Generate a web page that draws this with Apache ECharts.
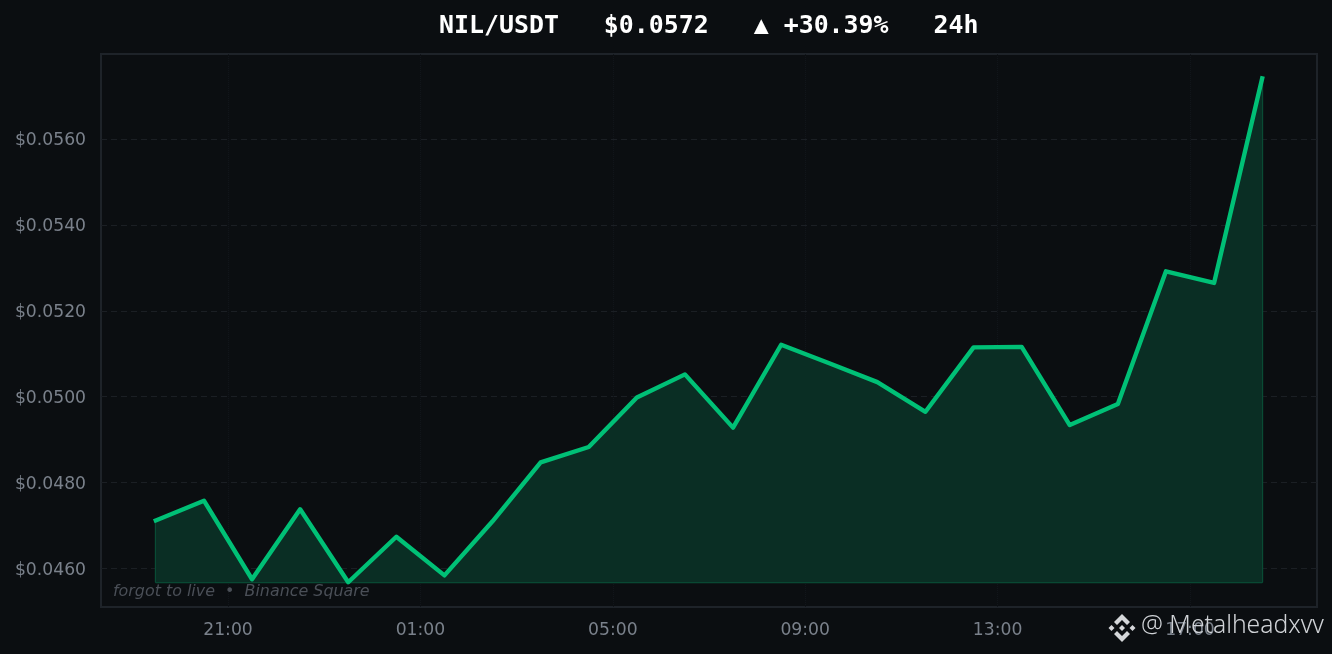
<!DOCTYPE html>
<html>
<head>
<meta charset="utf-8">
<style>html,body{margin:0;padding:0;background:#0b0e11}#c{width:1332px;height:654px}</style>
<script src="https://cdn.jsdelivr.net/npm/echarts@6/dist/echarts.min.js"></script>
</head>
<body>
<div id="c"></div>
<script>
const hours = [19.5,20.5,21.5,22.5,23.5,24.5,25.5,26.5,27.5,28.5,29.5,30.5,31.5,32.5,33.5,34.5,35.5,36.5,37.5,38.5,39.5,40.5,41.5,42.5];
const prices = [0.04712,0.04758,0.04575,0.04738,0.04568,0.04674,0.04584,0.04710,0.04847,0.04883,0.04998,0.05052,0.04928,0.05121,0.05078,0.05034,0.04965,0.05115,0.05116,0.04934,0.04983,0.05292,0.05265,0.05741];
const baseline = 0.04568;
const xTicks = [21,25,29,33,37,41];
const yTicks = [0.046,0.048,0.05,0.052,0.054,0.056];
const titleText = 'NIL/USDT   $0.0572   \u25B2 +30.39%   24h';
const sourceText = 'forgot to live  \u2022  Binance Square';
const handleText = '@ Metalheadxvv';

const line = hours.map((h,i)=>[h,prices[i]]);
const n = hours.length-1;
const edge = [[hours[0],prices[0]],[hours[0],baseline],[hours[n],baseline],[hours[n],prices[n]]];
const chart = echarts.init(document.getElementById('c'),null,{renderer:'canvas'});
const logoParts = [
  [[0,-14],[8,-6],[5,-3],[0,-8],[-5,-3],[-8,-6]],
  [[0,14],[8,6],[5,3],[0,8],[-5,3],[-8,6]],
  [[0,-3],[3,0],[0,3],[-3,0]],
  [[-10.5,-3],[-7.5,0],[-10.5,3],[-13.5,0]],
  [[10.5,-3],[13.5,0],[10.5,3],[7.5,0]]
];
chart.setOption({
  animation:false,
  backgroundColor:'#0b0e11',
  title:{text:titleText,top:9,left:434,textStyle:{fontFamily:'DejaVu Sans Mono',fontWeight:'bold',fontSize:24.9,color:'#ffffff'}},
  grid:{left:101,right:15,top:54,bottom:47,show:true,borderColor:'#1e2329',borderWidth:2,backgroundColor:'transparent'},
  xAxis:{type:'value',min:18.36,max:43.64,
    axisLine:{show:false},
    axisTick:{show:false,customValues:xTicks},
    axisLabel:{customValues:xTicks,margin:15,color:'#7a818b',fontFamily:'DejaVu Sans',fontSize:17.2,showMinLabel:true,showMaxLabel:true,
      formatter:v=>String(v%24).padStart(2,'0')+':00'},
    splitLine:{show:true,lineStyle:{color:'#11151a',type:'dotted',width:1}}},
  yAxis:{type:'value',min:0.045104,max:0.05798,
    axisLine:{show:false},
    axisTick:{show:false,customValues:yTicks},
    axisLabel:{customValues:yTicks,margin:15,
      formatter:v=>'{a|$'+v.toFixed(4)+'}',
      rich:{a:{color:'#7a818b',fontFamily:'DejaVu Sans',fontSize:17.2,padding:[4,0,0,0]}}},
    splitLine:{show:true,lineStyle:{color:'#1b1f24',type:[6,4],width:1}}},
  series:[
    {type:'line',data:edge,symbol:'none',silent:true,z:2,lineStyle:{color:'#0a5239',width:2}},
    {type:'line',data:line,symbol:'none',silent:true,z:3,
      lineStyle:{color:'#00c076',width:4.4,join:'round',cap:'square'},
      areaStyle:{color:'#0a2e24',opacity:1,origin:baseline}}
  ],
  graphic:[
    {type:'text',left:113,top:584,z:10,style:{text:sourceText,fill:'#4a4f57',font:'italic 15.9px "DejaVu Sans"'}},
    {type:'group',x:1122,y:628,z:20,children:logoParts.map(p=>({type:'polygon',z:20,shape:{points:p},style:{fill:'#d5d7da'}}))},
    {type:'text',left:1141,top:613,z:20,style:{text:handleText,fill:'#d0d3d7',font:'300 24.7px "Noto Sans"'}}
  ]
});
</script>
</body>
</html>
